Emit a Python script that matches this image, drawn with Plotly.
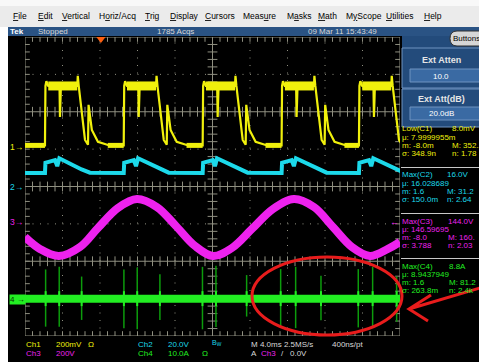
import plotly.graph_objects as go

W, H = 479, 362
FONT = "Liberation Sans"

# ---------------- acquisition / display settings ----------------
MS_PER_DIV = 4.0
T_LEFT = -8.1                 # ms at the left graticule edge (trigger at 0 ms)
N_HDIV, N_VDIV = 10, 8        # two stacked panes of 4 divisions each
T_RIGHT = T_LEFT + N_HDIV * MS_PER_DIV

CH1_SCALE, CH1_POS = 200.0, 5.06   # mV/div, ground marker (div above graticule bottom)
CH2_SCALE, CH2_POS = 20.0, 4.0     # V/div
CH3_SCALE, CH3_POS = 200.0, 3.05   # V/div
CH4_SCALE, CH4_POS = 10.0, 1.0     # A/div

# ---------------- Ch1: gate drive pulses (mV) ----------------
PULSE_T0 = [-5.97, 2.43, 10.85, 19.27, 27.52]          # rising edges, ms
CH1_DT = [0.00, 0.05, 0.15, 0.35, 1.55, 1.60, 1.70, 3.45, 3.50, 3.60,
          3.95, 4.27, 4.59, 4.65, 5.00, 5.65, 6.72, 8.00]
CH1_MV = [8, 326, 352, 326, 326, 160, 326, 326, 380, 326,
          160, 37, 12, 225, 91, 27, 10, 8]
CH1_LOW_MV, CH1_HIGH_MV = 8.0, 326.0
CH1_HIGH_SPAN = (0.35, 3.45)
CH1_SETTLED = 6.7

# ---------------- Ch2: bus voltage ripple (V) ----------------
CH2_DT = [0.00, 0.05, 1.07, 1.31, 1.53, 3.91, 4.80]
CH2_V = [7.2, 12.7, 14.1, 10.9, 15.1, 9.1, 7.4]
CH2_BASE_V = 7.2

# ---------------- Ch3: line voltage (V) ----------------
CH3_T = [-8.11, -6.51, -4.48, -2.24, -0.32, 1.81, 3.84, 5.97, 8.00, 10.03, 11.95,
         13.97, 16.11, 18.35, 20.59, 22.72, 24.75, 26.77, 28.69, 30.61, 31.89]
CH3_V = [-80, -144, -182, -134, -32, 75, 123, 80, -21, -128, -182,
         -139, -37, 70, 123, 80, -27, -134, -182, -144, -107]

# ---------------- Ch4: current spikes (A) ----------------
CH4_SPIKE_T = [-5.90, -4.45, -2.06, 2.45, 3.87, 6.29, 10.83, 12.27, 15.54,
               19.17, 20.77, 23.47, 27.45, 28.98, 31.54]
CH4_SPIKE_HI = [7.8, 8.5, 5.9, 7.8, 8.3, 6.5, 8.5, 8.8, 6.3, 7.9, 8.5, 6.1, 7.9, 8.5, 5.9]
CH4_SPIKE_LO = [-7.5, -7.5, -5.7, -7.9, -8.2, -5.7, -8.2, -7.6, -4.8,
                -7.5, -7.9, -5.8, -7.7, -7.5, -6.2]
CH4_RING_A = 2.0
CH4_BASE_A = 0.0

# ---------------- colours ----------------
YEL, CYA, MAG, GRN = "#f0f00c", "#1cd9ea", "#ee22ee", "#22ee22"
GRN_DARK = "#0c9c0c"
GRID = "#8f8f80"
TEKBLUE = "#2a5384"
PANEL = "#234b7b"
FIELD = "#3a6aa3"
EDGE = "#6f93c0"
TXT = "#d8d8d8"


def repeat_shape(starts, dt, vals, first_val):
    xs, ys = [T_LEFT], [first_val]
    for t0 in starts:
        xs += [t0 + d for d in dt]
        ys += list(vals)
    return xs, ys


def ch_range(scale, pos):
    return [-pos * scale, (N_VDIV - pos) * scale]


fig = go.Figure()

# ---- Ch2 (cyan) ----
x2, y2 = repeat_shape(PULSE_T0, CH2_DT, CH2_V, CH2_BASE_V)
fig.add_trace(go.Scatter(x=x2, y=y2, yaxis="y3", mode="lines",
                         line=dict(color=CYA, width=4), hoverinfo="skip"))

# ---- Ch1 (yellow): noisy plateaus + edges ----
hx, hy, lx, ly = [], [], [T_LEFT], [CH1_LOW_MV]
for i, t0 in enumerate(PULSE_T0):
    hx += [t0 + CH1_HIGH_SPAN[0], t0 + CH1_HIGH_SPAN[1], None]
    hy += [CH1_HIGH_MV, CH1_HIGH_MV, None]
    lx += [t0, None, t0 + CH1_SETTLED]
    ly += [CH1_LOW_MV, None, CH1_LOW_MV]
lx.append(T_RIGHT)
ly.append(CH1_LOW_MV)
fig.add_trace(go.Scatter(x=hx, y=hy, yaxis="y2", mode="lines",
                         line=dict(color=YEL, width=9), hoverinfo="skip"))
fig.add_trace(go.Scatter(x=lx, y=ly, yaxis="y2", mode="lines",
                         line=dict(color=YEL, width=5), hoverinfo="skip"))
x1, y1 = repeat_shape(PULSE_T0, CH1_DT, CH1_MV, CH1_LOW_MV)
fig.add_trace(go.Scatter(x=x1, y=y1, yaxis="y2", mode="lines",
                         line=dict(color=YEL, width=2.2), hoverinfo="skip"))

# ---- Ch3 (magenta) ----
fig.add_trace(go.Scatter(x=CH3_T, y=CH3_V, yaxis="y4", mode="lines",
                         line=dict(color=MAG, width=8, shape="spline", smoothing=1.0),
                         hoverinfo="skip"))

# ---- Ch4 (green) ----
sx, sy, rx, ry = [], [], [], []
for t, hi, lo in zip(CH4_SPIKE_T, CH4_SPIKE_HI, CH4_SPIKE_LO):
    sx += [t, t, None]
    sy += [lo, hi, None]
    rx += [t, t, None]
    ry += [-CH4_RING_A, CH4_RING_A, None]
fig.add_trace(go.Scatter(x=sx, y=sy, yaxis="y5", mode="lines",
                         line=dict(color=GRN_DARK, width=1.5), hoverinfo="skip"))
fig.add_trace(go.Scatter(x=[T_LEFT, T_RIGHT], y=[CH4_BASE_A, CH4_BASE_A], yaxis="y5",
                         mode="lines", line=dict(color=GRN, width=8), hoverinfo="skip"))
fig.add_trace(go.Scatter(x=rx, y=ry, yaxis="y5", mode="lines",
                         line=dict(color=GRN, width=2), hoverinfo="skip"))

# ---------------- graticule ----------------
shapes = []
PX_T = MS_PER_DIV / 37.5       # ms per screen pixel
PX_Y = 1 / 37.375              # div per screen pixel


def gline(x0, y0, x1, y1, dash="solid"):
    shapes.append(dict(type="line", xref="x", yref="y", x0=x0, y0=y0, x1=x1, y1=y1,
                       line=dict(color=GRID, width=1, dash=dash), layer="below"))


shapes.append(dict(type="rect", xref="x", yref="y", x0=T_LEFT, x1=T_RIGHT, y0=0, y1=N_VDIV,
                   line=dict(color=GRID, width=1), layer="below"))
gline(T_LEFT, 4, T_RIGHT, 4)
t_center = T_LEFT + N_HDIV / 2 * MS_PER_DIV
gline(t_center, 0, t_center, N_VDIV)
for yc in (2, 6):
    gline(T_LEFT, yc, T_RIGHT, yc)
for k in range(1, N_HDIV):
    if k != N_HDIV // 2:
        tk = T_LEFT + k * MS_PER_DIV
        gline(tk, 0, tk, N_VDIV, dash="1px,6.5px")
for yk in (1, 3, 5, 7):
    gline(T_LEFT, yk, T_RIGHT, yk, dash="1px,6.5px")

minor_t = [T_LEFT + i * MS_PER_DIV / 5 for i in range(1, N_HDIV * 5)]
minor_y = [i / 5 for i in range(1, N_VDIV * 5)]


def ticks(xs, ys, symbol, size):
    fig.add_trace(go.Scatter(x=xs, y=ys, mode="markers", hoverinfo="skip",
                             marker=dict(symbol=symbol, size=size, color=GRID,
                                         line=dict(color=GRID, width=1))))


ticks(minor_t, [N_VDIV - 2 * PX_Y] * len(minor_t), "line-ns", 4)
ticks(minor_t, [2 * PX_Y] * len(minor_t), "line-ns", 4)
for yc in (2, 4, 6):
    ticks(minor_t, [yc] * len(minor_t), "line-ns", 7)
ticks([T_LEFT + 2 * PX_T] * len(minor_y), minor_y, "line-ew", 4)
ticks([T_RIGHT - 2 * PX_T] * len(minor_y), minor_y, "line-ew", 4)
ticks([t_center] * len(minor_y), minor_y, "line-ew", 7)

# trigger position marker
fig.add_trace(go.Scatter(x=[0.0], y=[N_VDIV - 2 * PX_Y], mode="markers", cliponaxis=False,
                         hoverinfo="skip",
                         marker=dict(symbol="triangle-down", size=8, color="#ff6010")))


# ---------------- window chrome (paper coordinates in pixels) ----------------
def prect(x0, y0, x1, y1, fill, line=None, layer="below"):
    shapes.append(dict(type="rect", xref="paper", yref="paper",
                       x0=x0 / W, x1=x1 / W, y0=1 - y1 / H, y1=1 - y0 / H,
                       fillcolor=fill, layer=layer,
                       line=dict(color=line or fill, width=1 if line else 0)))


def pp(px, py):
    return f"{px / W:.5f},{1 - py / H:.5f}"


prect(0, 0, W, 27, "#ebebeb")
prect(0, 0, W, 6, "#f8f8f8")
prect(0, 27, 8, H, "#ffffff")
prect(8, 27, W, 36, TEKBLUE)
prect(402, 36, W, 127, PANEL)
prect(402, 48, W + 2, 88, PANEL, EDGE)
prect(410, 69, W + 2, 82, FIELD, EDGE)
prect(402, 89, W + 2, 127, PANEL, EDGE)
prect(410, 107, W + 2, 120, FIELD, EDGE)
for sy_ in (167.5, 213.5, 258.5):
    shapes.append(dict(type="line", xref="paper", yref="paper", x0=401 / W, x1=1,
                       y0=1 - sy_ / H, y1=1 - sy_ / H, line=dict(color="#c8c8c8", width=1)))
# "Buttons" pill
shapes.append(dict(type="path", xref="paper", yref="paper", layer="below",
                   path=f"M {pp(486, 31)} L {pp(457, 31)} Q {pp(450, 31)} {pp(450, 38.5)} "
                        f"Q {pp(450, 46)} {pp(457, 46)} L {pp(486, 46)} Z",
                   fillcolor="#d6d6d6", line=dict(color="#303030", width=1)))
# red highlight ellipse and arrow
shapes.append(dict(type="circle", xref="paper", yref="paper", layer="above",
                   x0=252 / W, x1=402 / W, y0=1 - 335 / H, y1=1 - 257 / H,
                   line=dict(color="#e81c1c", width=3)))
shapes.append(dict(type="path", xref="paper", yref="paper", layer="above",
                   path=f"M {pp(480, 288)} L {pp(409, 309)} M {pp(431, 295)} L {pp(409, 309)} L {pp(428, 321)}",
                   line=dict(color="#e81c1c", width=3)))

annotations = []


def label(px, py, text, color, size=8, xanchor="left", **kw):
    annotations.append(dict(x=px / W, y=1 - py / H, xref="paper", yref="paper", text=text,
                            showarrow=False, xanchor=xanchor, yanchor="middle",
                            font=dict(family=FONT, size=size, color=color), **kw))


def ul(word, i):
    return (word[:i] + '<span style="text-decoration:underline">' + word[i]
            + "</span>" + word[i + 1:])


MENU = [("File", 0, 13), ("Edit", 0, 38), ("Vertical", 0, 62), ("Horiz/Acq", 1, 99),
        ("Trig", 0, 145), ("Display", 0, 170), ("Cursors", 0, 205), ("Measure", 4, 243),
        ("Masks", 1, 287), ("Math", 0, 318), ("MyScope", 1, 346), ("Utilities", 0, 386),
        ("Help", 0, 424)]
for word, i, px in MENU:
    label(px - 2, 16, ul(word, i), "#000000", size=8.5)

label(8, 31.5, "<b>Tek</b>", "#ffffff", size=8)
label(36, 31.5, "Stopped", TXT, size=8)
label(155, 31.5, "1785 Acqs", TXT, size=8)
label(306, 31.5, "09 Mar 11 15:43:49", TXT, size=8)
label(451, 38.5, "Buttons", "#000000", size=8)

label(441, 60, "<b>Ext Atten</b>", "#e6e6e6", size=9, xanchor="center")
label(441, 76, "10.0", "#ffffff", size=8, xanchor="center")
label(441, 99, "<b>Ext Att(dB)</b>", "#e6e6e6", size=9, xanchor="center")
label(441, 113.5, "20.0dB", "#ffffff", size=8, xanchor="center")

# measurement readouts (right column is clipped by the panel edge on screen)
MEAS = [
    (129, YEL, 450, ["Low(C1)", "μ: 7.9999955m", "m: -8.0m", "σ: 348.9n"],
     ["8.0mV", "", "M: 352.", "n: 1.78"]),
    (175, CYA, 445, ["Max(C2)", "μ: 16.028689", "m: 1.6", "σ: 150.0m"],
     ["16.0V", "", "M: 31.2", "n: 2.64"]),
    (221, MAG, 446, ["Max(C3)", "μ: 146.59695", "m: -8.0", "σ: 3.788"],
     ["144.0V", "", "M: 160.", "n: 2.03"]),
    (266, GRN, 447, ["Max(C4)", "μ: 8.9437949", "m: 1.6", "σ: 263.8m"],
     ["8.8A", "", "M: 81.2", "n: 2.4k"]),
]
for y0, col, xr, left, right in MEAS:
    for j, (a, b) in enumerate(zip(left, right)):
        yy = y0 + j * 8.1
        label(400, yy, a, col, size=8)
        if b:
            label(xr, yy, b, col, size=8)

# channel ground markers
label(25, 147, "1→", YEL, size=8.5, xanchor="right")
label(25, 187, "2→", CYA, size=8.5, xanchor="right")
label(25, 222, "3→", MAG, size=8.5, xanchor="right")
label(9, 299, "4 →", "#053005", size=8, bgcolor=GRN, borderpad=0)
label(394, 222, "←", MAG, size=9, xanchor="center")

# bottom readout
R1, R2 = 344, 353
label(24, R1, "Ch1", YEL)
label(54, R1, f"{CH1_SCALE:.0f}mV", YEL)
label(86, R1, "Ω", YEL)
label(136, R1, "Ch2", CYA)
label(166, R1, f"{CH2_SCALE:.1f}V", CYA)
label(210, R1 - 1, "B<sub>W</sub>", CYA, size=7)
label(249, R1, f"M {MS_PER_DIV:.1f}ms 2.5MS/s", TXT)
label(330, R1, "400ns/pt", TXT)
label(24, R2, "Ch3", MAG)
label(54, R2, f"{CH3_SCALE:.0f}V", MAG)
label(136, R2, "Ch4", GRN)
label(166, R2, f"{CH4_SCALE:.1f}A", GRN)
label(200, R2, "Ω", GRN)
label(249, R2, "A", TXT)
label(259, R2, "Ch3", MAG)
label(279, R2, "/", TXT)
label(288, R2, "0.0V", TXT)

hidden = dict(visible=False, fixedrange=True)
fig.update_layout(
    width=W, height=H, autosize=False, margin=dict(l=0, r=0, t=0, b=0),
    paper_bgcolor="#000000", plot_bgcolor="#000000", showlegend=False,
    xaxis=dict(domain=[25 / W, 400 / W], range=[T_LEFT, T_RIGHT], **hidden),
    yaxis=dict(domain=[(H - 336) / H, (H - 37) / H], range=[0, N_VDIV], **hidden),
    yaxis2=dict(overlaying="y", range=ch_range(CH1_SCALE, CH1_POS), **hidden),
    yaxis3=dict(overlaying="y", range=ch_range(CH2_SCALE, CH2_POS), **hidden),
    yaxis4=dict(overlaying="y", range=ch_range(CH3_SCALE, CH3_POS), **hidden),
    yaxis5=dict(overlaying="y", range=ch_range(CH4_SCALE, CH4_POS), **hidden),
    shapes=shapes, annotations=annotations,
)

fig.write_html("out.html", config={"displayModeBar": False})
